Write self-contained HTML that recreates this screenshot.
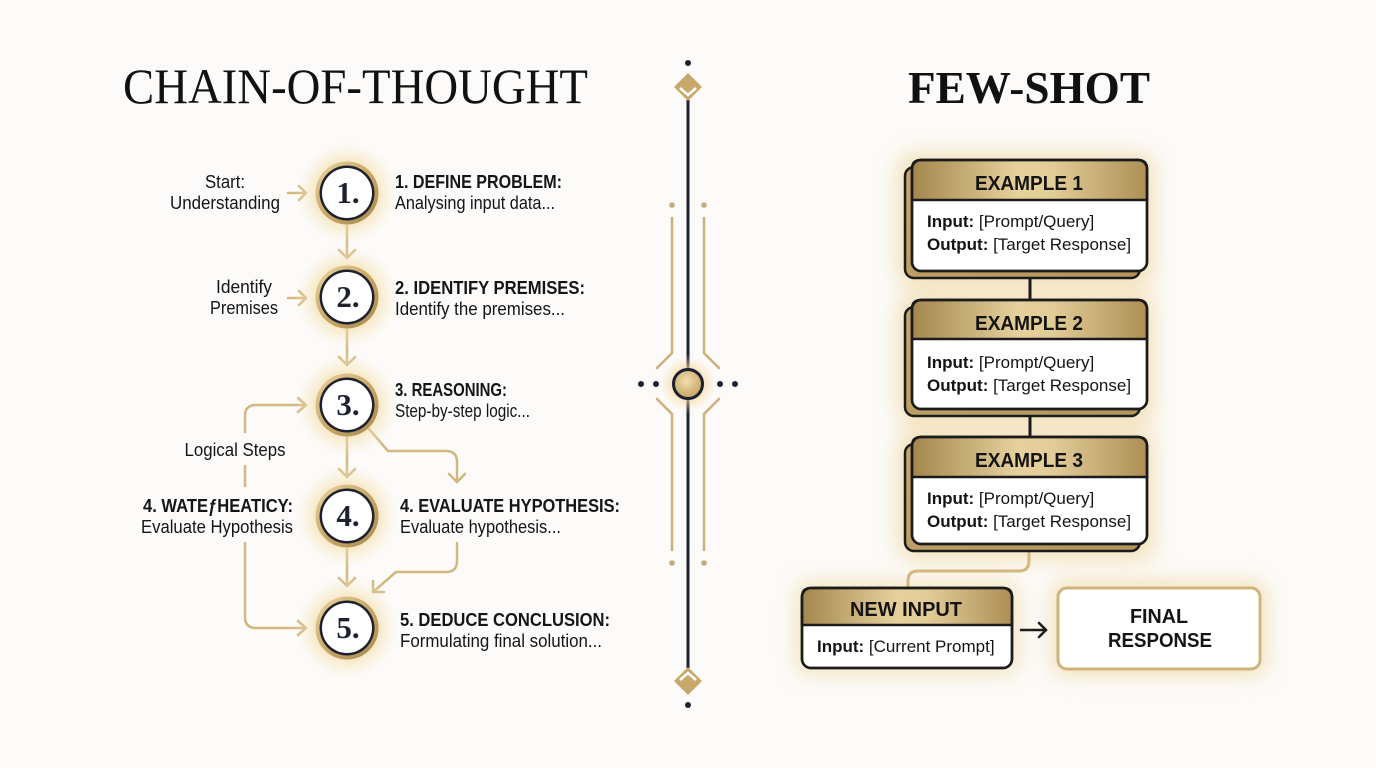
<!DOCTYPE html>
<html>
<head>
<meta charset="utf-8">
<style>
  html,body{margin:0;padding:0;background:#fcfbf9;}
  svg{display:block;}
</style>
</head>
<body>
<svg width="1376" height="768" viewBox="0 0 1376 768" xmlns="http://www.w3.org/2000/svg">
<defs>
  <radialGradient id="cglow" cx="50%" cy="50%" r="50%">
    <stop offset="0" stop-color="#f0cf80" stop-opacity="0.85"/>
    <stop offset="0.55" stop-color="#f3d99c" stop-opacity="0.6"/>
    <stop offset="0.8" stop-color="#f7e7c0" stop-opacity="0.28"/>
    <stop offset="1" stop-color="#fcfbf9" stop-opacity="0"/>
  </radialGradient>
  <linearGradient id="ring" x1="0" y1="0" x2="1" y2="1">
    <stop offset="0" stop-color="#e9d5a2"/>
    <stop offset="0.5" stop-color="#c9a866"/>
    <stop offset="1" stop-color="#a9884f"/>
  </linearGradient>
  <radialGradient id="cdot" cx="45%" cy="40%" r="60%">
    <stop offset="0" stop-color="#f0dfae"/>
    <stop offset="1" stop-color="#c6a262"/>
  </radialGradient>
  <linearGradient id="hdr" x1="0" y1="0" x2="1" y2="0">
    <stop offset="0" stop-color="#a4864d"/>
    <stop offset="0.45" stop-color="#e6d19d"/>
    <stop offset="0.6" stop-color="#e2cc97"/>
    <stop offset="1" stop-color="#ad8f56"/>
  </linearGradient>
  <linearGradient id="back" x1="0" y1="0" x2="1" y2="1">
    <stop offset="0" stop-color="#c7a86c"/>
    <stop offset="1" stop-color="#b3955c"/>
  </linearGradient>
  <filter id="blur" x="-30%" y="-30%" width="160%" height="160%">
    <feGaussianBlur stdDeviation="11"/>
  </filter>
</defs>

<rect x="0" y="0" width="1376" height="768" fill="#fcfbf9"/>

<!-- ============ TITLES ============ -->
<text x="123" y="103" font-family="'Liberation Serif', serif" font-size="50" fill="#111" textLength="465" lengthAdjust="spacingAndGlyphs">CHAIN-OF-THOUGHT</text>
<text x="908" y="103" font-family="'Liberation Serif', serif" font-size="46" font-weight="bold" fill="#111" textLength="242" lengthAdjust="spacingAndGlyphs">FEW-SHOT</text>

<!-- ============ CoT CONNECTORS ============ -->
<g fill="none" stroke="#d2b77f" stroke-width="2.5" stroke-linecap="round" stroke-linejoin="round">
  <path d="M288,193 H306"/><path d="M299,186 L306,193 L299,200"/>
  <path d="M288,298 H306"/><path d="M299,291 L306,298 L299,305"/>
  <path d="M347,226 V258"/><path d="M339,250 L347,258 L355,250"/>
  <path d="M347,330 V365"/><path d="M339,357 L347,365 L355,357"/>
  <path d="M347,438 V477"/><path d="M339,469 L347,477 L355,469"/>
  <path d="M347,549 V586"/><path d="M339,578 L347,586 L355,578"/>
  <path d="M306,405 H256 Q245,405 245,416 V432"/>
  <path d="M298,398 L306,405 L298,412"/>
  <path d="M245,466 V486"/>
  <path d="M245,543 V617 Q245,628 256,628 H306"/>
  <path d="M298,621 L306,628 L298,635"/>
  <path d="M369,429 L388,451 H446 Q457,451 457,462 V482"/>
  <path d="M449,474 L457,482 L465,474"/>
  <path d="M457,543 V561 Q457,572 446,572 H396 L373,592"/>
  <path d="M373,581 L373,592 L384,592"/>
</g>

<!-- ============ CoT CIRCLES ============ -->
<g font-family="'Liberation Serif', serif" font-size="31" font-weight="bold" fill="#1d2130" text-anchor="middle">
  <g>
    <circle cx="347" cy="193" r="54" fill="url(#cglow)"/>
    <circle cx="347" cy="193" r="31.5" fill="url(#ring)"/>
    <circle cx="347" cy="193" r="27.5" fill="#1d2130"/>
    <circle cx="347" cy="193" r="25" fill="#fff"/>
    <text x="348" y="203">1.</text>
  </g>
  <g>
    <circle cx="347" cy="297" r="54" fill="url(#cglow)"/>
    <circle cx="347" cy="297" r="31.5" fill="url(#ring)"/>
    <circle cx="347" cy="297" r="27.5" fill="#1d2130"/>
    <circle cx="347" cy="297" r="25" fill="#fff"/>
    <text x="348" y="307">2.</text>
  </g>
  <g>
    <circle cx="347" cy="405" r="54" fill="url(#cglow)"/>
    <circle cx="347" cy="405" r="31.5" fill="url(#ring)"/>
    <circle cx="347" cy="405" r="27.5" fill="#1d2130"/>
    <circle cx="347" cy="405" r="25" fill="#fff"/>
    <text x="348" y="415">3.</text>
  </g>
  <g>
    <circle cx="347" cy="516" r="54" fill="url(#cglow)"/>
    <circle cx="347" cy="516" r="31.5" fill="url(#ring)"/>
    <circle cx="347" cy="516" r="27.5" fill="#1d2130"/>
    <circle cx="347" cy="516" r="25" fill="#fff"/>
    <text x="348" y="526">4.</text>
  </g>
  <g>
    <circle cx="347" cy="628" r="54" fill="url(#cglow)"/>
    <circle cx="347" cy="628" r="31.5" fill="url(#ring)"/>
    <circle cx="347" cy="628" r="27.5" fill="#1d2130"/>
    <circle cx="347" cy="628" r="25" fill="#fff"/>
    <text x="348" y="638">5.</text>
  </g>
</g>

<!-- ============ CoT LABELS ============ -->
<g font-family="'Liberation Sans', sans-serif" font-size="18" fill="#151515">
  <text x="225" y="188" text-anchor="middle" textLength="40" lengthAdjust="spacingAndGlyphs">Start:</text>
  <text x="225" y="209" text-anchor="middle" textLength="110" lengthAdjust="spacingAndGlyphs">Understanding</text>
  <text x="244" y="293" text-anchor="middle" textLength="56" lengthAdjust="spacingAndGlyphs">Identify</text>
  <text x="244" y="314" text-anchor="middle" textLength="68" lengthAdjust="spacingAndGlyphs">Premises</text>
  <text x="235" y="456" text-anchor="middle" textLength="101" lengthAdjust="spacingAndGlyphs">Logical Steps</text>
  <text x="143" y="512" font-weight="bold" textLength="150" lengthAdjust="spacingAndGlyphs">4. WATEƒHEATICY:</text>
  <text x="141" y="533" textLength="152" lengthAdjust="spacingAndGlyphs">Evaluate Hypothesis</text>

  <text x="395" y="188" font-weight="bold" textLength="167" lengthAdjust="spacingAndGlyphs">1. DEFINE PROBLEM:</text>
  <text x="395" y="209" textLength="160" lengthAdjust="spacingAndGlyphs">Analysing input data...</text>
  <text x="395" y="294" font-weight="bold" textLength="190" lengthAdjust="spacingAndGlyphs">2. IDENTIFY PREMISES:</text>
  <text x="395" y="315" textLength="170" lengthAdjust="spacingAndGlyphs">Identify the premises...</text>
  <text x="395" y="396" font-weight="bold" textLength="112" lengthAdjust="spacingAndGlyphs">3. REASONING:</text>
  <text x="395" y="417" textLength="135" lengthAdjust="spacingAndGlyphs">Step-by-step logic...</text>
  <text x="400" y="512" font-weight="bold" textLength="220" lengthAdjust="spacingAndGlyphs">4. EVALUATE HYPOTHESIS:</text>
  <text x="400" y="533" textLength="161" lengthAdjust="spacingAndGlyphs">Evaluate hypothesis...</text>
  <text x="400" y="626" font-weight="bold" textLength="210" lengthAdjust="spacingAndGlyphs">5. DEDUCE CONCLUSION:</text>
  <text x="400" y="647" textLength="202" lengthAdjust="spacingAndGlyphs">Formulating final solution...</text>
</g>

<!-- ============ DIVIDER ============ -->
<g>
  <line x1="688" y1="98" x2="688" y2="672" stroke="#1b2030" stroke-width="3"/>
  <circle cx="688" cy="63" r="3" fill="#1b2030"/>
  <circle cx="688" cy="705" r="3" fill="#1b2030"/>
  <polygon points="688,73 702,87 688,101 674,87" fill="#c9a96a"/>
  <polyline points="680,88 688,95 696,88" fill="none" stroke="#fff" stroke-width="2.5"/>
  <polygon points="688,667 702,681 688,695 674,681" fill="#c9a96a"/>
  <polyline points="680,680 688,673 696,680" fill="none" stroke="#fff" stroke-width="2.5"/>

  <g fill="none" stroke="#cdb07a" stroke-width="2.5" stroke-linecap="round">
    <path d="M672,218 V353 L657,368"/>
    <path d="M704,218 V353 L719,368"/>
    <path d="M657,399 L672,414 V550"/>
    <path d="M719,399 L704,414 V550"/>
  </g>
  <g fill="#c8ab78">
    <circle cx="672" cy="205" r="2.8"/>
    <circle cx="704" cy="205" r="2.8"/>
    <circle cx="672" cy="563" r="2.8"/>
    <circle cx="704" cy="563" r="2.8"/>
  </g>
  <g fill="#1b2030">
    <circle cx="641" cy="384" r="3"/>
    <circle cx="656" cy="384" r="3"/>
    <circle cx="720" cy="384" r="3"/>
    <circle cx="735" cy="384" r="3"/>
  </g>
  <circle cx="688" cy="384" r="30" fill="url(#cglow)"/>
  <circle cx="688" cy="384" r="14.5" fill="url(#cdot)" stroke="#1b2030" stroke-width="3"/>
</g>

<!-- ============ FEW-SHOT GLOWS ============ -->
<g filter="url(#blur)" opacity="0.75">
  <rect x="898" y="154" width="256" height="132" rx="12" fill="#efd7a0"/>
  <rect x="898" y="294" width="256" height="130" rx="12" fill="#efd7a0"/>
  <rect x="898" y="431" width="256" height="128" rx="12" fill="#efd7a0"/>
  <rect x="796" y="582" width="222" height="92" rx="12" fill="#f0dcaa"/>
  <rect x="1052" y="582" width="214" height="93" rx="12" fill="#efd7a0"/>
</g>

<g stroke="#1b1b1b" stroke-width="3">
  <line x1="1030" y1="277" x2="1030" y2="301"/>
  <line x1="1030" y1="415" x2="1030" y2="438"/>
</g>
<path d="M1029,550 V561 Q1029,571 1019,571 H918 Q908,571 908,581 V589" fill="none" stroke="#d2b77f" stroke-width="3"/>

<!-- ============ CARDS ============ -->
<g stroke="#1b1b1b" stroke-width="2.5">
  <rect x="905" y="167" width="235" height="111" rx="9" fill="url(#back)"/>
  <rect x="912" y="160" width="235" height="111" rx="9" fill="#fff"/>
  <path d="M912,200 V169 Q912,160 921,160 H1138 Q1147,160 1147,169 V200 Z" fill="url(#hdr)"/>
  <rect x="912" y="160" width="235" height="111" rx="9" fill="none"/>

  <rect x="905" y="307" width="235" height="109" rx="9" fill="url(#back)"/>
  <rect x="912" y="300" width="235" height="109" rx="9" fill="#fff"/>
  <path d="M912,339 V309 Q912,300 921,300 H1138 Q1147,300 1147,309 V339 Z" fill="url(#hdr)"/>
  <rect x="912" y="300" width="235" height="109" rx="9" fill="none"/>

  <rect x="905" y="444" width="235" height="107" rx="9" fill="url(#back)"/>
  <rect x="912" y="437" width="235" height="107" rx="9" fill="#fff"/>
  <path d="M912,477 V446 Q912,437 921,437 H1138 Q1147,437 1147,446 V477 Z" fill="url(#hdr)"/>
  <rect x="912" y="437" width="235" height="107" rx="9" fill="none"/>

  <rect x="802" y="588" width="210" height="80" rx="9" fill="#fff"/>
  <path d="M802,625 V597 Q802,588 811,588 H1003 Q1012,588 1012,597 V625 Z" fill="url(#hdr)"/>
  <rect x="802" y="588" width="210" height="80" rx="9" fill="none"/>
</g>

<rect x="1058" y="588" width="202" height="81" rx="9" fill="#fff" stroke="#d0b47c" stroke-width="3"/>

<g fill="none" stroke="#1b1b1b" stroke-width="2.5" stroke-linecap="round" stroke-linejoin="round">
  <path d="M1021,630 H1046"/>
  <path d="M1039,623 L1046,630 L1039,637"/>
</g>

<g font-family="'Liberation Sans', sans-serif" fill="#141414">
  <g font-size="20" font-weight="bold" text-anchor="middle">
    <text x="1029" y="190" textLength="108" lengthAdjust="spacingAndGlyphs">EXAMPLE 1</text>
    <text x="1029" y="330" textLength="108" lengthAdjust="spacingAndGlyphs">EXAMPLE 2</text>
    <text x="1029" y="467" textLength="108" lengthAdjust="spacingAndGlyphs">EXAMPLE 3</text>
    <text x="906" y="616" textLength="112" lengthAdjust="spacingAndGlyphs">NEW INPUT</text>
    <text x="1159" y="623" textLength="58" lengthAdjust="spacingAndGlyphs">FINAL</text>
    <text x="1160" y="647" textLength="104" lengthAdjust="spacingAndGlyphs">RESPONSE</text>
  </g>
  <g font-size="17">
    <text x="927" y="227"><tspan font-weight="bold">Input:</tspan> [Prompt/Query]</text>
    <text x="927" y="250"><tspan font-weight="bold">Output:</tspan> [Target Response]</text>
    <text x="927" y="368"><tspan font-weight="bold">Input:</tspan> [Prompt/Query]</text>
    <text x="927" y="391"><tspan font-weight="bold">Output:</tspan> [Target Response]</text>
    <text x="927" y="504"><tspan font-weight="bold">Input:</tspan> [Prompt/Query]</text>
    <text x="927" y="527"><tspan font-weight="bold">Output:</tspan> [Target Response]</text>
    <text x="817" y="652"><tspan font-weight="bold">Input:</tspan> [Current Prompt]</text>
  </g>
</g>
</svg>
</body>
</html>
